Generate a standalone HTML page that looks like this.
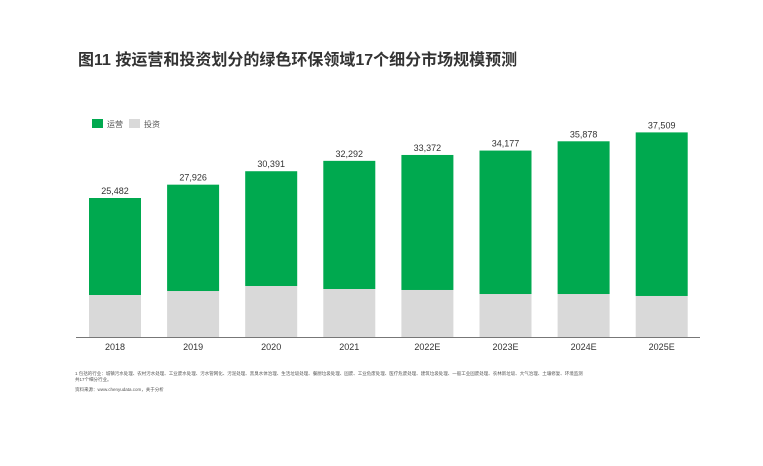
<!DOCTYPE html>
<html><head><meta charset="utf-8"><style>
body{margin:0;background:#fff;width:763px;height:461px;overflow:hidden;font-family:"Liberation Sans","Noto Sans CJK SC",sans-serif;}
</style></head><body>
<svg width="763" height="461" xmlns="http://www.w3.org/2000/svg">
<text x="78" y="65" font-size="16" font-weight="bold" fill="#333" font-family="Liberation Sans, Noto Sans CJK SC, sans-serif">图11 按运营和投资划分的绿色环保领域17个细分市场规模预测</text>
<g>
<rect x="92" y="119" width="11" height="9" fill="#00a94f"/>
<text x="107" y="127" font-size="8" fill="#555">运营</text>
<rect x="129" y="119" width="11" height="9" fill="#d9d9d9"/>
<text x="144" y="127" font-size="8" fill="#555">投资</text>
</g>
<g id="bars"></g>
<line x1="76" y1="337.5" x2="700" y2="337.5" stroke="#777" stroke-width="1"/>
<text x="75" y="375" font-size="4.5" fill="#555">1 包括的行业：城镇污水处理、农村污水处理、工业废水处理、污水管网化、污泥处理、黑臭水体治理、生活垃圾处理、餐厨垃圾处理、固废、工业危废处理、医疗危废处理、建筑垃圾处理、一般工业固废处理、农林新垃圾、大气治理、土壤修复、环境监测</text>
<text x="75" y="381" font-size="4.5" fill="#555">共17个细分行业。</text>
<text x="75" y="391" font-size="4.5" fill="#555">资料来源：www.chenyudata.com，关于分析</text>
</svg>
<script>
const categories=["2018","2019","2020","2021","2022E","2023E","2024E","2025E"];
const totals=[25482,27926,30391,32292,33372,34177,35878,37509];
const investment=[7700,8430,9350,8800,8620,7880,7880,7520];
const totalLabels=["25,482","27,926","30,391","32,292","33,372","34,177","35,878","37,509"];
const baseY=337, scale=139/25482, x0=115, step=78.1, bw=52;
const yPx=v=>baseY-v*scale;
const g=document.getElementById('bars');
const NS="http://www.w3.org/2000/svg";
categories.forEach((c,i)=>{
  const cx=x0+i*step;
  const inv=document.createElementNS(NS,'rect');
  inv.setAttribute('x',cx-bw/2);inv.setAttribute('width',bw);
  inv.setAttribute('y',yPx(investment[i]));inv.setAttribute('height',investment[i]*scale);
  inv.setAttribute('fill','#d9d9d9');
  
  
  g.appendChild(inv);
  const op=document.createElementNS(NS,'rect');
  op.setAttribute('x',cx-bw/2);op.setAttribute('width',bw);
  op.setAttribute('y',yPx(totals[i]));op.setAttribute('height',(totals[i]-investment[i])*scale);
  op.setAttribute('fill','#00a94f');
  
  
  g.appendChild(op);
  const t=document.createElementNS(NS,'text');
  t.setAttribute('x',cx);t.setAttribute('y',yPx(totals[i])-4);
  t.setAttribute('text-anchor','middle');t.setAttribute('font-size','9');t.setAttribute('fill','#333');
  t.textContent=totalLabels[i];
  
  
  g.appendChild(t);
  const xl=document.createElementNS(NS,'text');
  xl.setAttribute('x',cx);xl.setAttribute('y',350);
  xl.setAttribute('text-anchor','middle');xl.setAttribute('font-size','9');xl.setAttribute('fill','#333');
  xl.textContent=c;
  
  
  g.appendChild(xl);
});
</script>
</body></html>
